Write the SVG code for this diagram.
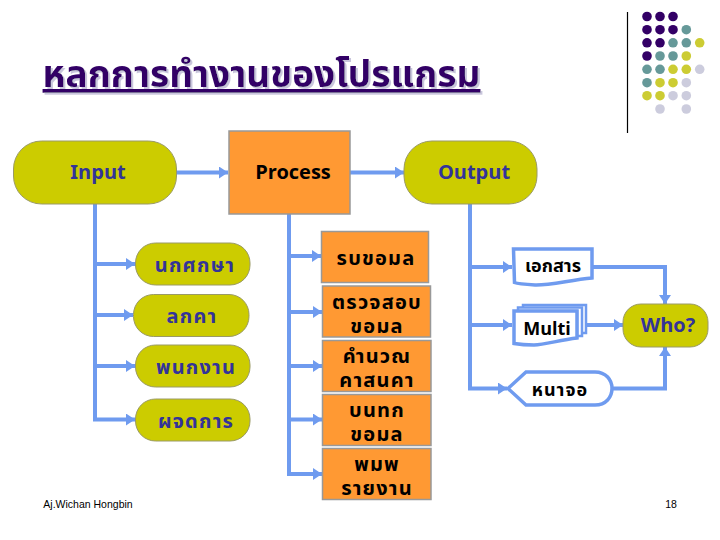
<svg xmlns="http://www.w3.org/2000/svg" width="720" height="540" viewBox="0 0 720 540">
<defs>
<marker id="ah" markerUnits="userSpaceOnUse" markerWidth="10" markerHeight="12" refX="9" refY="6" orient="auto"><path d="M0 0L9 6L0 12z" fill="#6f9bef"/></marker>
<filter id="sh" x="-5%" y="-20%" width="110%" height="140%"><feOffset dx="2" dy="2" in="SourceAlpha" result="o"/><feFlood flood-color="#c9c6dc"/><feComposite in2="o" operator="in" result="s"/><feMerge><feMergeNode in="s"/><feMergeNode in="SourceGraphic"/></feMerge></filter>
</defs>
<style>
text{text-anchor:middle;font-family:"Noto Sans Thai","Noto Sans","DejaVu Sans","Noto Sans CJK SC",sans-serif}
.c{fill:none;stroke:#6f9bef;stroke-width:4}
.a{marker-end:url(#ah)}
.y{fill:#cccc00;stroke:#9a9a66;stroke-width:1}
.o{fill:#ff9933;stroke:#999999;stroke-width:1.5}
.w{fill:#fff;stroke:#6f9bef;stroke-width:3.5}
.t{fill:#fff;stroke:#6f9bef;stroke-width:2.5}
.b{font-size:20px;font-weight:700;fill:#333399}
.th{letter-spacing:1.2px}
.k{font-size:20px;font-weight:700;fill:#000}
.s{font-size:10.500px;fill:#000;font-family:"Liberation Sans",sans-serif}
.P{fill:#330066}.T{fill:#669999}.Y{fill:#cccc33}.L{fill:#ccccdd}
</style>
<rect width="720" height="540" fill="#fff"/>
<g id="title">
<text x="261.500" y="87" font-size="37" font-weight="700" fill="#330066" filter="url(#sh)" style="text-decoration:underline">หลกการทำงานของโปรแกรม</text>
</g>
<g id="decoration">
<path d="M627.5 12V133" stroke="#000" stroke-width="1.2"/>
<g class="P"><circle cx="647" cy="16.500" r="4.800"/><circle cx="660" cy="16.500" r="4.800"/><circle cx="673" cy="16.500" r="4.800"/><circle cx="647" cy="29.700" r="4.800"/><circle cx="660" cy="29.700" r="4.800"/><circle cx="673" cy="29.700" r="4.800"/><circle cx="647" cy="42.800" r="4.800"/><circle cx="660" cy="42.800" r="4.800"/><circle cx="647" cy="56" r="4.800"/></g>
<g class="T"><circle cx="686.300" cy="29.700" r="4.800"/><circle cx="673" cy="42.800" r="4.800"/><circle cx="686.300" cy="42.800" r="4.800"/><circle cx="660" cy="56" r="4.800"/><circle cx="673" cy="56" r="4.800"/><circle cx="647" cy="69.300" r="4.800"/><circle cx="660" cy="69.300" r="4.800"/><circle cx="647" cy="82.700" r="4.800"/></g>
<g class="Y"><circle cx="699.700" cy="42.800" r="4.800"/><circle cx="686.300" cy="56" r="4.800"/><circle cx="673" cy="69.300" r="4.800"/><circle cx="686.300" cy="69.300" r="4.800"/><circle cx="660" cy="82.700" r="4.800"/><circle cx="673" cy="82.700" r="4.800"/><circle cx="647" cy="95.700" r="4.800"/><circle cx="660" cy="95.700" r="4.800"/></g>
<g class="L"><circle cx="699.700" cy="69.300" r="4.800"/><circle cx="686.300" cy="82.700" r="4.800"/><circle cx="673" cy="95.700" r="4.800"/><circle cx="686.300" cy="95.700" r="4.800"/><circle cx="660" cy="109" r="4.800"/><circle cx="686.300" cy="109" r="4.800"/></g>
</g>
<g id="connectors">
<path class="c a" d="M176 172.500H228"/>
<path class="c a" d="M350 172.500H404"/>
<path class="c" d="M95 204V419.500"/>
<path class="c a" d="M95 264H135"/><path class="c a" d="M95 315H133"/><path class="c a" d="M95 366H135"/><path class="c a" d="M93 419.500H135"/>
<path class="c" d="M289 214V474"/>
<path class="c a" d="M289 256H321"/><path class="c a" d="M289 312H322"/><path class="c a" d="M289 366H322"/><path class="c a" d="M289 419.500H322"/><path class="c a" d="M287 474H322"/>
<path class="c" d="M470 204V388"/>
<path class="c a" d="M470 267H512"/><path class="c a" d="M470 325H512"/><path class="c a" d="M468 388.500H507"/>
<path class="c a" d="M592 267H665V304"/>
<path class="c a" d="M586 325H623"/>
<path class="c a" d="M612 388.500H665V347"/>
</g>
<g id="input"><rect class="y" x="13.500" y="141" width="163" height="63" rx="28"/><text class="b" x="98" y="179">Input</text></g>
<g id="process"><rect class="o" x="229" y="131" width="121" height="83"/><text class="k" x="293" y="179">Process</text></g>
<g id="output"><rect class="y" x="404" y="141" width="133" height="63" rx="28"/><text class="b" x="474" y="179">Output</text></g>
<g id="n1"><rect class="y" x="135.500" y="243" width="114.500" height="42" rx="20"/><text class="b th" x="195" y="272">นกศกษา</text></g>
<g id="n2"><rect class="y" x="133.500" y="294.500" width="115.500" height="42" rx="20"/><text class="b th" x="192" y="323">ลกคา</text></g>
<g id="n3"><rect class="y" x="135.500" y="345" width="114.500" height="42" rx="20"/><text class="b th" x="196" y="374">พนกงาน</text></g>
<g id="n4"><rect class="y" x="135.500" y="399" width="114.500" height="42" rx="20"/><text class="b th" x="196" y="428">ผจดการ</text></g>
<g id="p1"><rect class="o" x="321.500" y="231.500" width="107" height="51"/><text class="k th" x="376" y="265">รบขอมล</text></g>
<g id="p2"><rect class="o" x="322.500" y="286" width="108" height="51"/><text class="k th" x="377" y="309"><tspan x="377">ตรวจสอบ</tspan><tspan x="377" dy="24">ขอมล</tspan></text></g>
<g id="p3"><rect class="o" x="322.500" y="340.500" width="108.500" height="51"/><text class="k th" x="377" y="363"><tspan x="377">คำนวณ</tspan><tspan x="377" dy="24">คาสนคา</tspan></text></g>
<g id="p4"><rect class="o" x="322.500" y="394.500" width="108.500" height="51"/><text class="k th" x="377" y="417"><tspan x="377">บนทก</tspan><tspan x="377" dy="24">ขอมล</tspan></text></g>
<g id="p5"><rect class="o" x="322.500" y="448.500" width="108.500" height="51"/><text class="k th" x="377" y="471"><tspan x="377">พมพ</tspan><tspan x="377" dy="24">รายงาน</tspan></text></g>
<g id="doc"><path class="w" d="M513.500 249H592V278C570 280 550 285.500 535 285C526 284.500 518 284 514.500 282.500Z"/><text class="k" x="553" y="272" style="font-size:18px">เอกสาร</text></g>
<g id="multi"><path class="t" d="M523 305H586V333H577V310H523Z"/><path class="t" d="M518 307.500H582V336H577V311H518Z"/><path class="w" d="M514 311H577V338C560 340 545 344.500 534 345C527 345 520 344.500 514 343.500Z"/><text class="k" x="547" y="335" style="font-size:18px">Multi</text></g>
<g id="who"><rect class="y" x="623" y="304" width="85" height="43" rx="18"/><text class="b" x="668" y="332">Who?</text></g>
<g id="screen"><path class="w" d="M508 388.500L526 372H595C606 372 612 380 612 388.500C612 397 606 405 595 405H526Z"/><text class="k" x="560" y="396" style="font-size:18px;letter-spacing:1px">หนาจอ</text></g>
<g id="footer"><text class="s" x="88" y="508">Aj.Wichan Hongbin</text><text class="s" x="671" y="508">18</text></g>
</svg>
